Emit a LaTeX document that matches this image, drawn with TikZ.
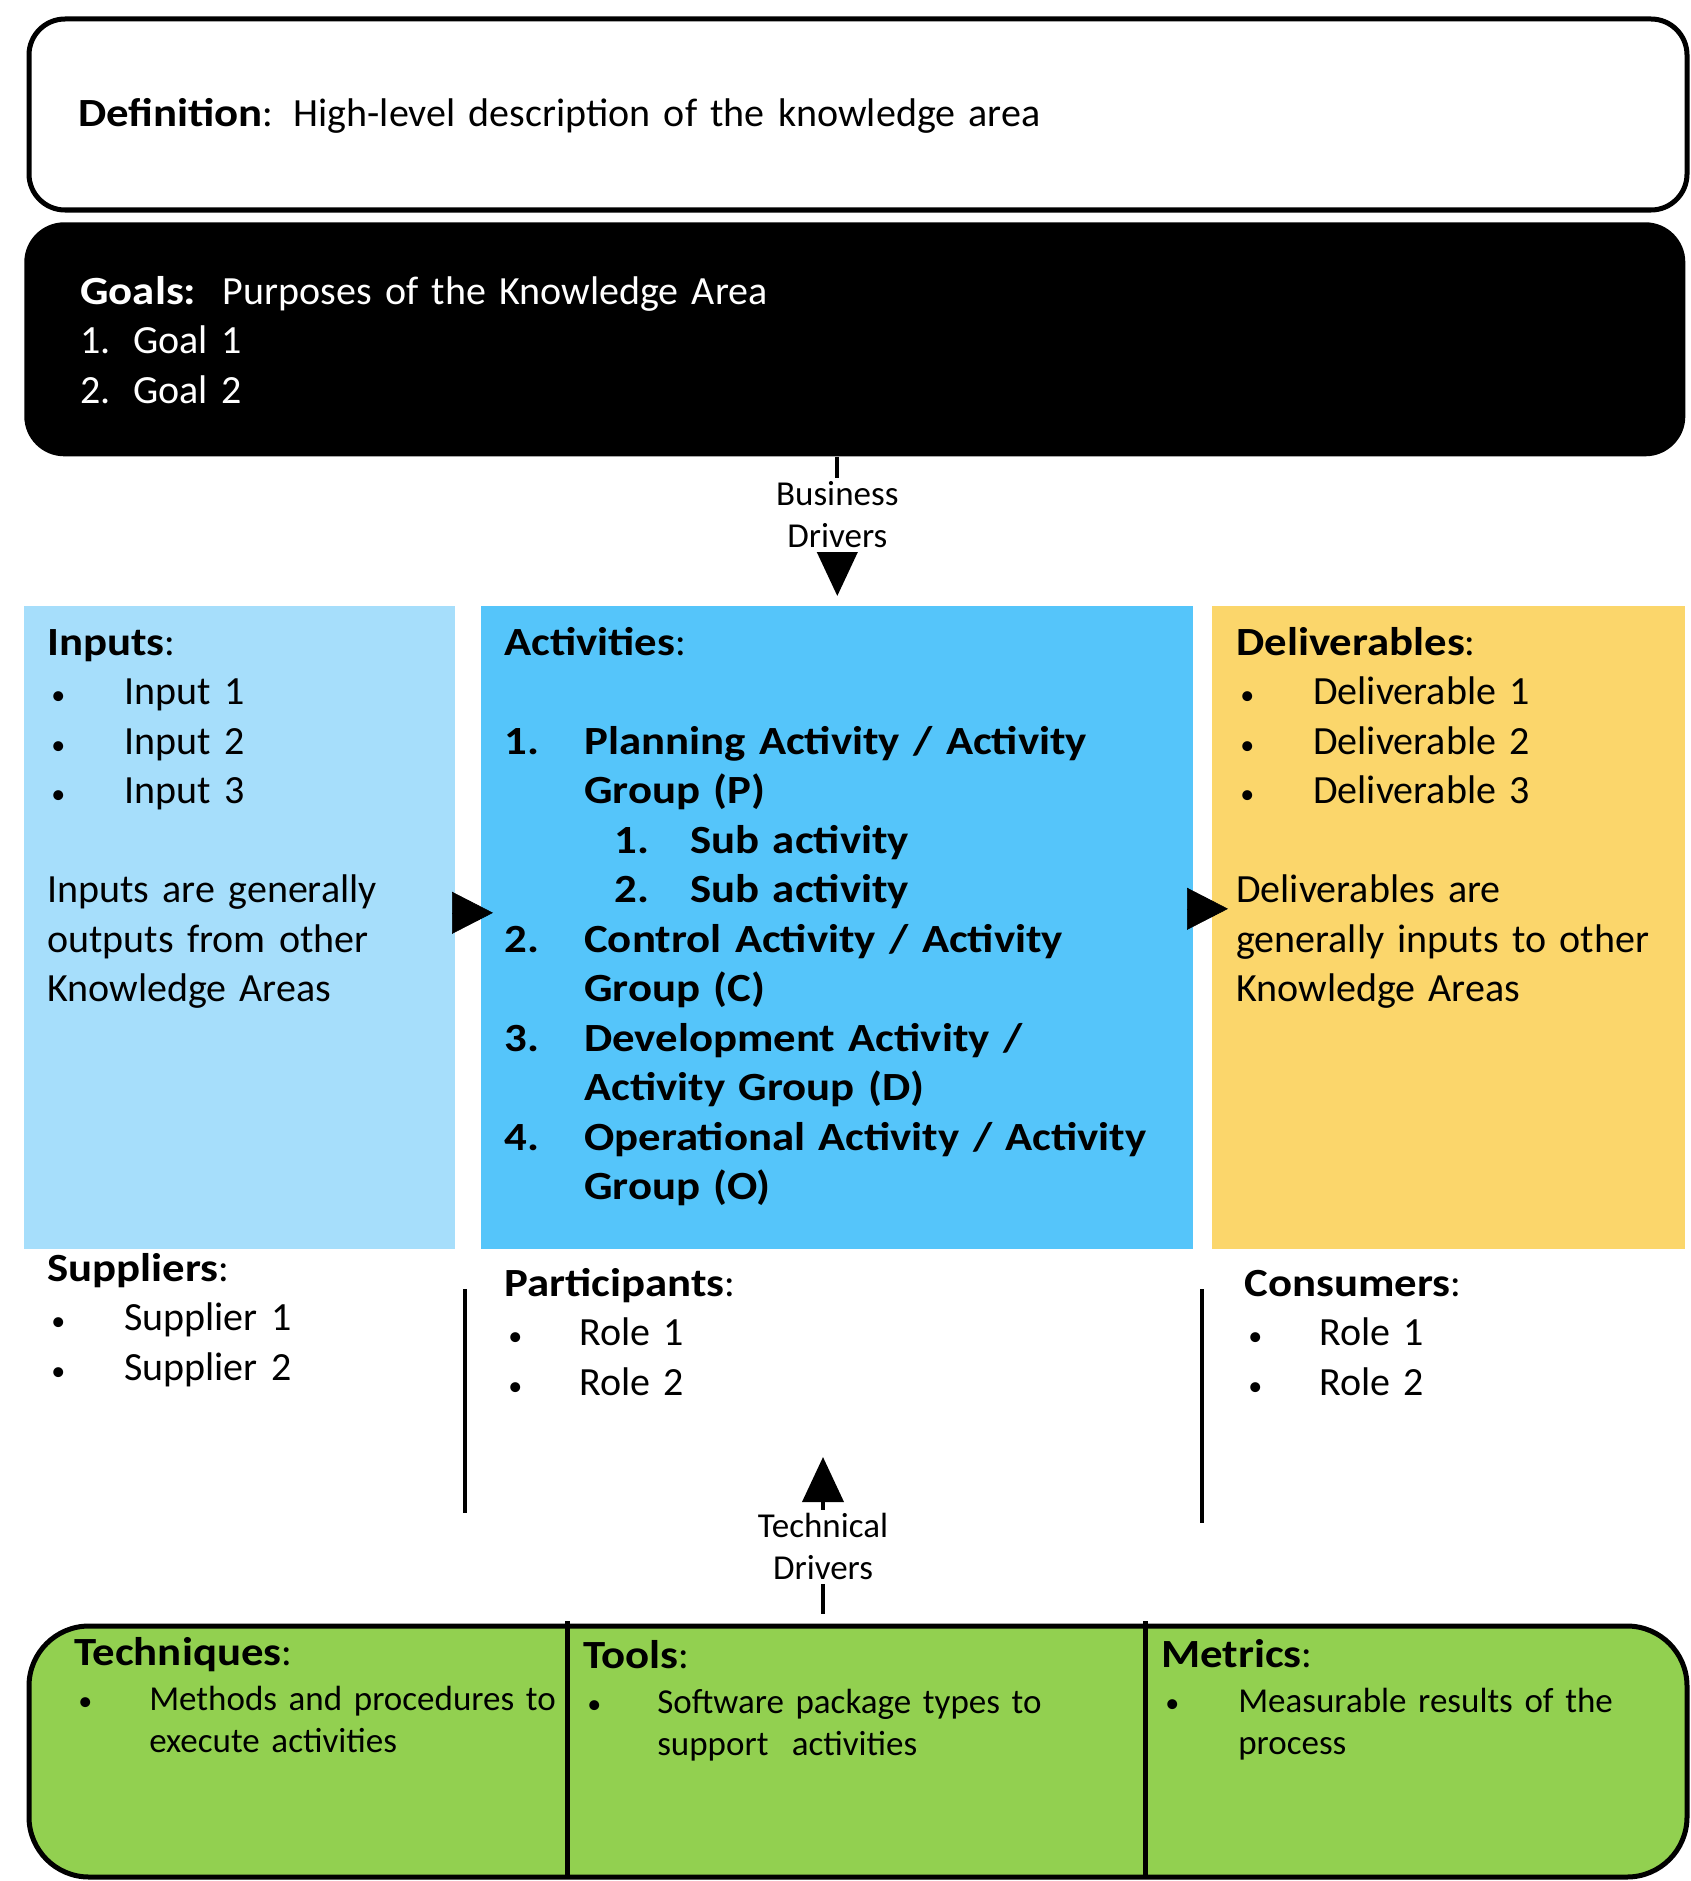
\documentclass[tikz,border=0pt]{standalone}
\usepackage{fontspec}
\setmainfont{Carlito}[BoldFeatures={FakeStretch=1.12}]
\usetikzlibrary{arrows.meta,positioning,calc}
\definecolor{inblue}{RGB}{166,222,251}
\definecolor{actblue}{RGB}{85,197,250}
\definecolor{delyellow}{RGB}{251,214,107}
\definecolor{kitgreen}{RGB}{146,208,80}
\tikzset{>=latex}
\newcommand{\bul}[2][77pt]{\makebox[#1][l]{\hspace{4pt}{\fontsize{28}{0}\selectfont•}}#2}
\newcommand{\num}[2][80pt]{\makebox[#1][l]{#2}}
\newcommand{\head}[1]{{\fontsize{40}{40}\selectfont\textbf{#1}:}}

\begin{document}
\begin{tikzpicture}[x=1pt, y=-1pt, semithick]
    \tikzstyle{txt}=[anchor=base west, inner sep=0pt, align=left, text width=560pt, font=\fontsize{40}{49.5}\selectfont]
    \tikzstyle{small}=[font=\fontsize{35}{42}\selectfont]
    \tikzstyle{area}=[anchor=north west, inner sep=0pt]
    \tikzstyle{tri}=[-{Triangle[length=41pt,width=42pt]}]
    \tikzstyle{drv}=[line width=4pt, -{Triangle[length=45pt,width=41pt]}]

    \useasboundingbox (0,0) rectangle (1691,1881);

    \node[area, draw, line width=5pt, rounded corners=36pt, minimum width=1658pt, minimum height=191pt] (def) at (26.5,16.5) {};
    \node[area, fill=black, rounded corners=40pt, minimum width=1661pt, minimum height=234pt] (goals) at (24,222) {};
    \node[area, fill=inblue, minimum width=431pt, minimum height=643pt] (in) at (24,606) {};
    \node[area, fill=actblue, minimum width=712pt, minimum height=643pt] (act) at (481,606) {};
    \node[area, fill=delyellow, minimum width=473pt, minimum height=643pt] (del) at (1212,606) {};
    \node[area, draw, fill=kitgreen, line width=5pt, rounded corners=60pt, minimum width=1658pt, minimum height=251pt] (kit) at (26.5,1623.5) {};
    \draw[line width=5pt] (567,1621) -- (567,1877);
    \draw[line width=5pt] (1145,1621) -- (1145,1877);

    \draw[line width=3.5pt] (465,1289) -- (465,1513);
    \draw[line width=3.5pt] (1202,1289) -- (1202,1523);

    \node[txt, text width=1500pt] (deftxt) at (78,127) {\textbf{Definition}: High-level description of the knowledge area};
    \node[txt, text=white, text width=1500pt] (goaltxt) at (80,304) {\textbf{Goals:}\ \ Purposes of the Knowledge Area\\
        \num[53pt]{1.}Goal 1\\
        \num[53pt]{2.}Goal 2};

    \node[txt, text width=420pt] (intxt) at (47,655) {\textbf{Inputs}:\\
        \bul{Input 1}\\
        \bul{Input 2}\\
        \bul{Input 3}\\[49.5pt]
        Inputs are generally\\
        outputs from other\\
        Knowledge Areas};
    \node[txt, text width=760pt, font=\bfseries\fontsize{40}{49.5}\selectfont] (acttxt) at (504,655) {Activities{\mdseries:}\\[49.5pt]
        \num{1.}Planning Activity / Activity\\
        \hspace*{80pt}Group (P)\\
        \hspace*{110pt}\num[76pt]{1.}Sub activity\\
        \hspace*{110pt}\num[76pt]{2.}Sub activity\\
        \num{2.}Control Activity / Activity\\
        \hspace*{80pt}Group (C)\\
        \num{3.}Development Activity /\\
        \hspace*{80pt}Activity Group (D)\\
        \num{4.}Operational Activity / Activity\\
        \hspace*{80pt}Group (O)};
    \node[txt, text width=460pt] (deltxt) at (1236,655) {\textbf{Deliverables}:\\
        \bul{Deliverable 1}\\
        \bul{Deliverable 2}\\
        \bul{Deliverable 3}\\[49.5pt]
        Deliverables are\\
        generally inputs to other\\
        Knowledge Areas};

    \node[txt, text width=420pt] (suptxt) at (47,1281) {\textbf{Suppliers}:\\
        \bul{Supplier 1}\\
        \bul{Supplier 2}};
    \node[txt, text width=600pt] (parttxt) at (504,1296) {\textbf{Participants}:\\
        \bul[75pt]{Role 1}\\
        \bul[75pt]{Role 2}};
    \node[txt, text width=420pt] (constxt) at (1244,1296) {\textbf{Consumers}:\\
        \bul[75pt]{Role 1}\\
        \bul[75pt]{Role 2}};

    \node[txt, small, text width=640pt] (techtxt) at (74,1665) {\head{Techniques}\\[3pt]
        \bul[75pt]{Methods and procedures to}\\
        \hspace*{75pt}execute activities};
    \node[txt, small, text width=640pt] (tooltxt) at (583,1668) {\head{Tools}\\[3pt]
        \bul[74pt]{Software package types to}\\
        \hspace*{74pt}support~ activities};
    \node[txt, small, text width=640pt] (mettxt) at (1161,1667) {\head{Metrics}\\[3pt]
        \bul[77pt]{Measurable results of the}\\
        \hspace*{77pt}process};

    \draw[tri, shorten >=-12pt] ([yshift=15pt]in.east) -- ([yshift=15pt]act.west);
    \draw[tri, shorten >=-16pt] ([yshift=19pt]act.east) -- ([yshift=19pt]del.west);

    \draw[drv, shorten >=10pt] (act.north |- goals.south) -- (act.north)
        node[pos=0.39, fill=white, inner xsep=0pt, inner ysep=4pt, small, align=center] (bd) {Business\\Drivers};
    \coordinate (tdtip) at (823,1457);
    \draw[drv, shorten <=10pt] (tdtip |- kit.north) -- (tdtip)
        node[pos=0.46, fill=white, inner xsep=0pt, inner ysep=4pt, small, align=center] (td) {Technical\\Drivers};
\end{tikzpicture}
\end{document}
